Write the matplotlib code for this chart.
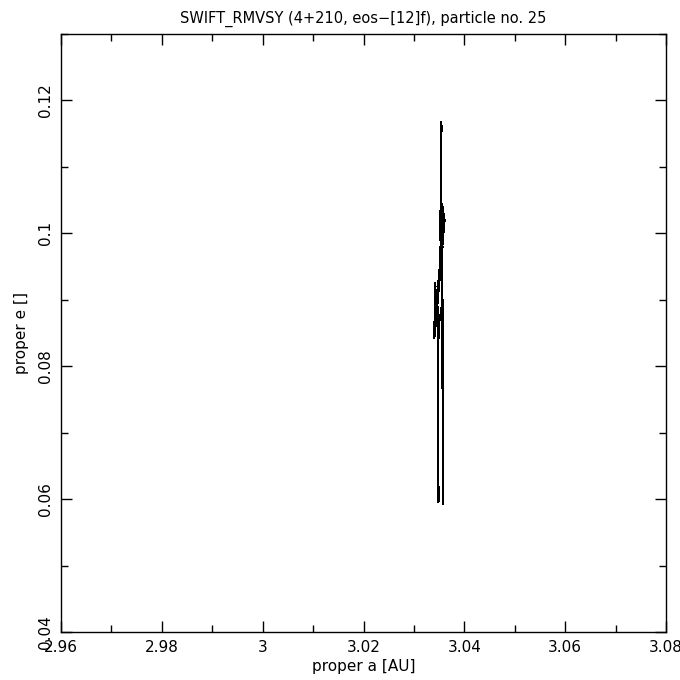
import matplotlib
matplotlib.use("Agg")
import matplotlib.pyplot as plt
from matplotlib.ticker import MultipleLocator, FuncFormatter

# trajectory of proper elements (a [AU], e)
a_vals = [3.0354, 3.0353, 3.0355, 3.0352, 3.0354, 3.0353, 3.0356, 3.0351,
          3.0358, 3.0349, 3.0360, 3.0348, 3.0361, 3.0347, 3.0359, 3.0346,
          3.0358, 3.0345, 3.0357, 3.0344, 3.0342, 3.0341, 3.0343, 3.0340,
          3.0342, 3.0341, 3.0344, 3.0343, 3.0348, 3.0349, 3.0348, 3.0349,
          3.0347, 3.0348, 3.0349, 3.0357, 3.0358, 3.0357, 3.0358, 3.0357,
          3.0358, 3.0356, 3.0357, 3.0355, 3.0357, 3.0354, 3.0356, 3.0353]
e_vals = [0.1167, 0.1000, 0.1162, 0.0990, 0.1150, 0.0985, 0.1045, 0.0950,
          0.1040, 0.0925, 0.1030, 0.0905, 0.1020, 0.0895, 0.1010, 0.0885,
          0.1000, 0.0880, 0.0980, 0.0900, 0.0925, 0.0845, 0.0920, 0.0842,
          0.0918, 0.0850, 0.0910, 0.0860, 0.0890, 0.0597, 0.0870, 0.0600,
          0.0845, 0.0596, 0.0860, 0.0900, 0.0592, 0.0880, 0.0594, 0.0850,
          0.0620, 0.0960, 0.0700, 0.0980, 0.0760, 0.1000, 0.0850, 0.1020]

title = "SWIFT_RMVSY (4+210, eos\u2212[12]f), particle no. 25"
xlabel = "proper a [AU]"
ylabel = "proper e []"

fig = plt.figure(figsize=(6.8, 6.8), dpi=100)
ax = fig.add_axes([61/680, 48/680, 605/680, 598/680])
ax.plot(a_vals, e_vals, color="black", lw=0.6, antialiased=False)

ax.set_xlim(2.96, 3.08)
ax.set_ylim(0.04, 0.13)
ax.xaxis.set_major_locator(MultipleLocator(0.02))
ax.xaxis.set_minor_locator(MultipleLocator(0.01))
ax.yaxis.set_major_locator(MultipleLocator(0.02))
ax.yaxis.set_minor_locator(MultipleLocator(0.01))

def fmt(v, pos):
    s = f"{v:.2f}".rstrip("0").rstrip(".")
    return s
ax.xaxis.set_major_formatter(FuncFormatter(fmt))
ax.yaxis.set_major_formatter(FuncFormatter(fmt))

ax.tick_params(which="both", direction="in", top=True, right=True,
               width=1, color="black")
ax.tick_params(which="major", length=8, labelsize=11, pad=6)
ax.tick_params(which="minor", length=5)
for lbl in ax.get_yticklabels():
    lbl.set_rotation(90)
    lbl.set_va("center")
for sp in ax.spines.values():
    sp.set_linewidth(1)

ax.set_xlabel(xlabel, fontsize=11, labelpad=3)
ax.set_ylabel(ylabel, fontsize=11, labelpad=6)
ax.set_title(title, fontsize=10.5, pad=8)

fig.savefig("out.png", dpi=100, facecolor="white")
